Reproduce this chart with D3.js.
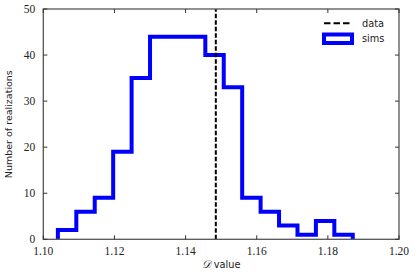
<!DOCTYPE html>
<html><head><meta charset="utf-8">
<script src="https://cdn.jsdelivr.net/npm/d3@7"></script>
<style>body{margin:0;background:#fff}svg{display:block}</style>
</head><body>
<script>
const binStart = 1.1041;
const binEnd = 1.1870;
const counts = [2, 6, 9, 19, 35, 44, 44, 44, 40, 33, 9, 6, 3, 1, 4, 1];
const dataValue = 1.1485;
const xTicks = [1.10, 1.12, 1.14, 1.16, 1.18, 1.20];
const yTicks = [0, 10, 20, 30, 40, 50];
const legendLabels = ["data", "sims"];

const W = 416, H = 277;
const m = {l: 43.3, r: 17, t: 9, b: 37.7};
const svg = d3.select("body").append("svg").attr("width", W).attr("height", H);
const x = d3.scaleLinear().domain([1.10, 1.20]).range([m.l, W - m.r]);
const y = d3.scaleLinear().domain([0, 50]).range([H - m.b, m.t]);

const bw = (binEnd - binStart) / counts.length;
const pts = [[binStart, 0]];
counts.forEach((c, i) => { pts.push([binStart + i * bw, c]); pts.push([binStart + (i + 1) * bw, c]); });
pts.push([binEnd, 0]);

svg.append("path").datum(pts)
  .attr("d", d3.line().x(d => x(d[0])).y(d => y(d[1])))
  .attr("fill", "none").attr("stroke", "#0000ff").attr("stroke-width", 4)
  .attr("stroke-linejoin", "miter");

svg.append("line").attr("x1", x(dataValue)).attr("x2", x(dataValue))
  .attr("y1", y(0)).attr("y2", y(50))
  .attr("stroke", "#000").attr("stroke-width", 2).attr("stroke-dasharray", "4.5,2");

// frame
const fx0 = x(1.10), fx1 = x(1.20), fy0 = y(0), fy1 = y(50);
svg.append("rect").attr("x", fx0).attr("y", fy1).attr("width", fx1 - fx0).attr("height", fy0 - fy1)
  .attr("fill", "none").attr("stroke", "#555").attr("stroke-width", 1.3);

const tl = 4;
const g = svg.append("g").attr("stroke", "#333").attr("stroke-width", 1);
xTicks.forEach(t => {
  g.append("line").attr("x1", x(t)).attr("x2", x(t)).attr("y1", fy0).attr("y2", fy0 - tl);
  g.append("line").attr("x1", x(t)).attr("x2", x(t)).attr("y1", fy1).attr("y2", fy1 + tl);
});
yTicks.forEach(t => {
  g.append("line").attr("x1", fx0).attr("x2", fx0 + tl).attr("y1", y(t)).attr("y2", y(t));
  g.append("line").attr("x1", fx1).attr("x2", fx1 - tl).attr("y1", y(t)).attr("y2", y(t));
});

const serif = "'Liberation Serif', 'DejaVu Serif', serif";
svg.append("g").selectAll("text").data(xTicks).join("text")
  .attr("x", d => x(d)).attr("y", fy0 + 16).attr("text-anchor", "middle")
  .attr("font-family", serif).attr("font-size", 11.5).attr("fill", "#222")
  .text(d => d.toFixed(2));
svg.append("g").selectAll("text").data(yTicks).join("text")
  .attr("x", fx0 - 8).attr("y", d => y(d) + 4).attr("text-anchor", "end")
  .attr("font-family", serif).attr("font-size", 11.5).attr("fill", "#222")
  .text(d => d);

const sans = "'DejaVu Sans', sans-serif";
svg.append("text").attr("transform", `translate(12,${(fy0 + fy1) / 2}) rotate(-90)`)
  .attr("text-anchor", "middle").attr("font-family", sans).attr("font-size", 9.5).attr("fill", "#222")
  .text("Number of realizations");

const xl = svg.append("text").attr("x", (fx0 + fx1) / 2).attr("y", H - 9)
  .attr("text-anchor", "middle").attr("font-family", sans).attr("font-size", 9.8).attr("fill", "#222");
xl.append("tspan").attr("font-family", serif).attr("font-style", "italic").attr("font-size", 11).text("𝒟");
xl.append("tspan").text(" value");

// legend
const lx0 = 324, lx1 = 352;
svg.append("line").attr("x1", lx0).attr("x2", lx1).attr("y1", 23.3).attr("y2", 23.3)
  .attr("stroke", "#000").attr("stroke-width", 2).attr("stroke-dasharray", "6.5,3");
svg.append("rect").attr("x", lx0).attr("y", 34.5).attr("width", lx1 - lx0).attr("height", 8.5)
  .attr("fill", "#fff").attr("stroke", "#0000ff").attr("stroke-width", 4);
svg.selectAll(".lg").data(legendLabels).join("text")
  .attr("x", 362).attr("y", (d, i) => 26.8 + i * 15.5)
  .attr("font-family", sans).attr("font-size", 9.8).attr("fill", "#222").text(d => d);
</script>
</body></html>
